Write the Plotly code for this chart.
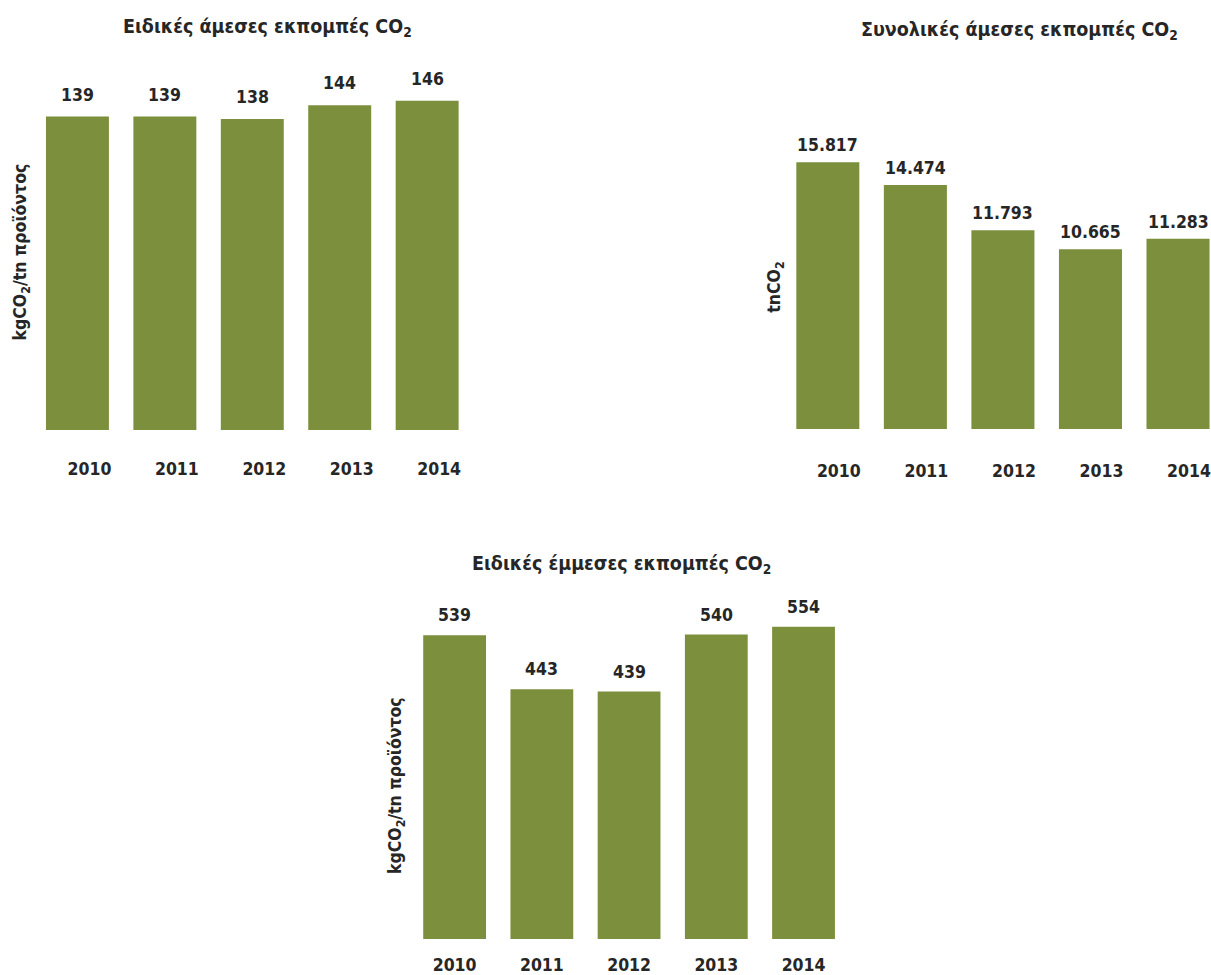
import plotly.graph_objects as go

years = ["2010", "2011", "2012", "2013", "2014"]
specific_direct = [139, 139, 138, 144, 146]
total_direct = [15817, 14474, 11793, 10665, 11283]
specific_indirect = [539, 443, 439, 540, 554]

titles = ["Ειδικές άμεσες εκπομπές CO<sub>2</sub>",
          "Συνολικές άμεσες εκπομπές CO<sub>2</sub>",
          "Ειδικές έμμεσες εκπομπές CO<sub>2</sub>"]
ytitles = ["kgCO<sub>2</sub>/tn προϊόντος", "tnCO<sub>2</sub>", "kgCO<sub>2</sub>/tn προϊόντος"]

W, H = 1211, 975
FONT = "DejaVu Sans Condensed, DejaVu Sans, sans-serif"
TXT = "#262626"
BAR = "#7B8F3D"


def fnt(size):
    return dict(family=FONT, size=size, color=TXT, weight="bold")


def xd(a, b):
    return [max(a / W, 0.0), min(b / W, 1.0)]


def yd(top, bottom):
    return [1 - bottom / H, 1 - top / H]


fig = go.Figure()
series = [specific_direct, total_direct, specific_indirect]
axes = [("x", "y"), ("x2", "y2"), ("x3", "y3")]
for s, (xa, ya) in zip(series, axes):
    fig.add_trace(go.Bar(x=years, y=s, xaxis=xa, yaxis=ya, marker_color=BAR,
                         marker_line_width=0, hoverinfo="skip"))

common_x = dict(type="category", showgrid=False, zeroline=False, showline=False, ticks="",
                tickfont=fnt(17.5), fixedrange=True)
common_y = dict(showgrid=False, zeroline=False, showline=False, showticklabels=False, fixedrange=True)

fig.update_layout(
    width=W, height=H, margin=dict(l=0, r=0, t=0, b=0),
    paper_bgcolor="white", plot_bgcolor="white", showlegend=False,
    bargap=0.28,
    xaxis=dict(common_x, domain=xd(33.75, 471.25), range=[-0.5, 4.5], anchor="y",
               ticklabelstandoff=26, ticklabelshift=12),
    yaxis=dict(common_y, domain=yd(60, 431), range=[0, 371 / 2.26], anchor="x"),
    xaxis2=dict(common_x, domain=xd(784.7, 1211), range=[-0.5, 4 + (1211 - 1179) / 87.6], anchor="y2",
                ticklabelstandoff=29, ticklabelshift=11),
    yaxis2=dict(common_y, domain=yd(60, 430), range=[0, 370 / 0.0169], anchor="x2"),
    xaxis3=dict(common_x, domain=xd(411.35, 847.85), range=[-0.5, 4.5], anchor="y3",
                ticklabelstandoff=13),
    yaxis3=dict(common_y, domain=yd(600, 941), range=[0, 341 / 0.565], anchor="x3"),
)

ann = []
label_shift = [10, 5, 8]
for i, (s, (xa, ya)) in enumerate(zip(series, axes)):
    for j, v in enumerate(s):
        txt = f"{v:,}".replace(",", ".")
        ann.append(dict(x=j, y=v, xref=xa, yref=ya, text=txt, showarrow=False,
                        yanchor="bottom", yshift=label_shift[i], font=fnt(17.5)))

for t, (cx, cy) in zip(titles, [(268, 28), (1020, 31), (622, 566)]):
    ann.append(dict(x=cx / W, y=1 - cy / H, xref="paper", yref="paper", text=t, showarrow=False,
                    xanchor="center", yanchor="middle", font=fnt(19.5)))

for t, (cx, cy) in zip(ytitles, [(22, 252), (776, 288), (397, 787)]):
    ann.append(dict(x=cx / W, y=1 - cy / H, xref="paper", yref="paper", text=t, showarrow=False,
                    textangle=-90, xanchor="center", yanchor="middle", font=fnt(17.5)))

fig.update_layout(annotations=ann)
page_css = ("document.body.style.margin='0';"
            "document.body.style.overflow='hidden';"
            "document.documentElement.style.overflow='hidden';"
            "var g=document.getElementById('{plot_id}'); if(g){g.style.overflow='hidden';}")
fig.write_html("out.html", post_script=page_css, config={"displayModeBar": False})
